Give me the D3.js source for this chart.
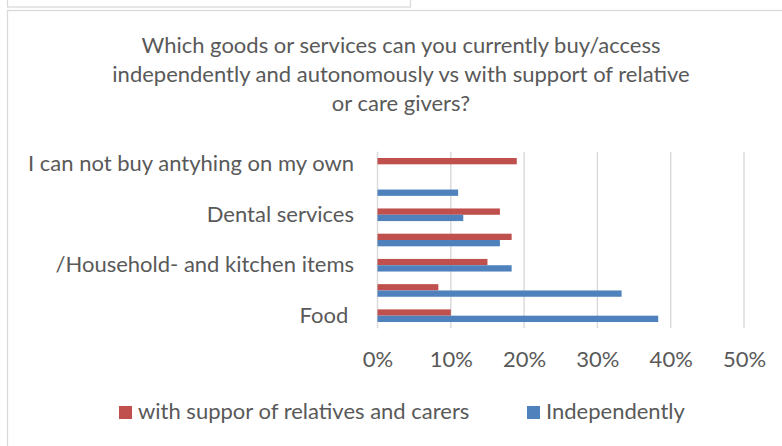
<!DOCTYPE html>
<html><head><meta charset="utf-8">
<script src="https://cdn.jsdelivr.net/npm/d3@7"></script>
<style>
body{margin:0;background:#fff}
text{font-family:Lato,'Open Sans',sans-serif;fill:#595959;white-space:pre}
</style>
</head><body>
<svg id="c" width="782" height="446"></svg>
<script>
// Categories listed bottom to top (Excel order)
const categories = ["Food ", "", "/Household- and kitchen items", "", "Dental services", "", "I can not buy antyhing on my own"];
const seriesNames = ["with suppor of relatives and carers", "Independently"];
const withSupport = [10, 8.3, 15, 18.3, 16.7, 0, 19];
const independently = [38.3, 33.3, 18.3, 16.7, 11.7, 11, 0];
const xTicks = [0, 10, 20, 30, 40, 50];
const titleLines = [
  "Which goods or services can you currently buy/access",
  "independently and autonomously vs with support of relative",
  "or care givers?"
];
const colors = ["#C0504D", "#4F81BD"];

const svg = d3.select("#c");
const FS = 22;

// frames
svg.append("rect").attr("x", 7.5).attr("y", -5).attr("width", 403).attr("height", 12)
  .attr("fill", "#fff").attr("stroke", "#d9d9d9").attr("stroke-width", 1.3);
svg.append("rect").attr("x", 7.5).attr("y", 10.5).attr("width", 800).attr("height", 450)
  .attr("fill", "#fff").attr("stroke", "#d9d9d9").attr("stroke-width", 1.3);

// title
svg.append("g").selectAll("text").data(titleLines).join("text")
  .attr("x", 401).attr("y", (d, i) => 53 + i * 29)
  .attr("text-anchor", "middle").style("font-size", FS + "px").text(d => d);

const pL = 377.5, pR = 744, pT = 151.7, pB = 328.3;
const x = d3.scaleLinear().domain([0, 50]).range([pL, pR]);
const y = d3.scaleBand().domain(d3.range(categories.length)).range([pB, pT]);
const ys = d3.scaleBand().domain([0, 1]).range([y.bandwidth() * 0.25, y.bandwidth() * 0.75]);

// gridlines
svg.append("g").selectAll("line").data(xTicks).join("line")
  .attr("x1", d => x(d)).attr("x2", d => x(d)).attr("y1", pT).attr("y2", pB)
  .attr("stroke", "#d9d9d9").attr("stroke-width", 1.4);

// bars
const series = [withSupport, independently];
series.forEach((vals, s) => {
  svg.append("g").selectAll("rect").data(vals).join("rect")
    .attr("x", x(0))
    .attr("y", (d, i) => y(i) + ys(s))
    .attr("width", d => x(d) - x(0))
    .attr("height", ys.bandwidth())
    .attr("fill", colors[s]);
});

// x axis
const xAxis = svg.append("g").attr("transform", `translate(0,${pB})`)
  .call(d3.axisBottom(x).tickValues(xTicks).tickFormat(d => d + "%").tickSize(0));
xAxis.select(".domain").remove();
xAxis.attr("font-family", null).attr("font-size", null);
xAxis.selectAll("text").attr("y", 31).attr("dy", "0.35em")
  .style("font-size", FS + "px").attr("fill", null);

// y axis
const yAxis = svg.append("g").attr("transform", `translate(${pL},0)`)
  .call(d3.axisLeft(y).tickFormat(i => categories[i]).tickSize(0).tickPadding(23.5));
yAxis.select(".domain").remove();
yAxis.attr("font-family", null).attr("font-size", null);
yAxis.selectAll("text").style("font-size", FS + "px").attr("fill", null);

// legend
const legX = [119, 527];
const lg = svg.append("g").selectAll("g").data(seriesNames).join("g")
  .attr("transform", (d, i) => `translate(${legX[i]},406)`);
lg.append("rect").attr("width", 13).attr("height", 13).attr("fill", (d, i) => colors[i]);
lg.append("text").attr("x", 19).attr("y", 13).style("font-size", FS + "px").text(d => d);
</script>
</body></html>
